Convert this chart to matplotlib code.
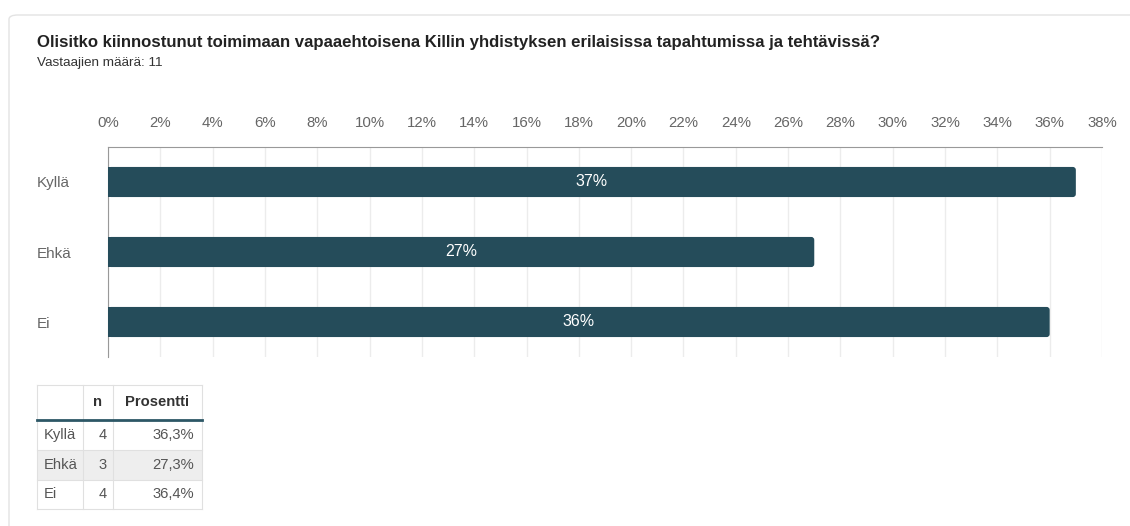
import matplotlib
matplotlib.use("Agg")
import matplotlib.pyplot as plt
from matplotlib.patches import FancyBboxPatch, Rectangle
from matplotlib.lines import Line2D

# ---- data ----
title = "Olisitko kiinnostunut toimimaan vapaaehtoisena Killin yhdistyksen erilaisissa tapahtumissa ja tehtävissä?"
subtitle = "Vastaajien määrä: 11"
categories = ["Kyllä", "Ehkä", "Ei"]
bar_values = [37, 27, 36]
bar_labels = ["37%", "27%", "36%"]
counts = [4, 3, 4]
pct_text = ["36,3%", "27,3%", "36,4%"]
table_header = ["", "n", "Prosentti"]
x_ticks = list(range(0, 39, 2))

W, H = 1130, 526
plt.rcParams['font.family'] = ['Liberation Sans', 'DejaVu Sans']
fig = plt.figure(figsize=(W / 100, H / 100), dpi=100)
fig.patch.set_facecolor("white")

def fx(x):
    return x / W

def fy(y):
    return 1 - y / H

PX2PT = 0.72
BAR = "#254c5a"
GRAY_TXT = "#666666"

# card border
card = FancyBboxPatch((fx(9), fy(560)), fx(1200), fy(15) - fy(560),
                      boxstyle="round,pad=0,rounding_size=0.008",
                      transform=fig.transFigure, fill=False,
                      edgecolor="#e3e3e3", linewidth=1.0)
fig.patches.append(card)

fig.text(fx(37), fy(42), title, fontsize=12.05, fontweight="bold",
         color="#222222", va="center", ha="left")
fig.text(fx(37), fy(63), subtitle, fontsize=9.7, color="#333333",
         va="center", ha="left")

# ---- bar chart ----
ax_l, ax_r, ax_t, ax_b = 108, 1102, 147, 357
ax = fig.add_axes([fx(ax_l), fy(ax_b), fx(ax_r) - fx(ax_l), fy(ax_t) - fy(ax_b)])
ax.set_xlim(0, 38)
ax.set_ylim(2.5, -0.5)
ypos = list(range(len(categories)))
bars = ax.barh(ypos, bar_values, height=0.43, color=BAR, zorder=3)
# rounded right corners
x_per_px = 38 / (ax_r - ax_l)
y_per_px = 3 / (ax_b - ax_t)
rad_px = 3
for b in bars:
    x0, y0 = b.get_x(), b.get_y()
    w, h = b.get_width(), b.get_height()
    b.set_visible(False)
    ax.add_patch(FancyBboxPatch((x0, y0), w, h,
                                boxstyle=f"round,pad=0,rounding_size={rad_px * x_per_px}",
                                mutation_aspect=y_per_px / x_per_px,
                                facecolor=BAR, edgecolor="none", zorder=3))
    ax.add_patch(Rectangle((x0, y0), w / 2, h, facecolor=BAR,
                           edgecolor="none", zorder=3))
for yv, v, lab in zip(ypos, bar_values, bar_labels):
    ax.text(v / 2, yv, lab, color="white", fontsize=11.5, ha="center",
            va="center", zorder=4)
ax.xaxis.tick_top()
ax.set_xticks(x_ticks)
ax.set_xticklabels([f"{t}%" for t in x_ticks], color=GRAY_TXT, fontsize=10.8)
ax.tick_params(axis="x", length=0, pad=12.5)
ax.set_yticks(ypos)
ax.set_yticklabels(categories, color=GRAY_TXT, fontsize=11)
ax.tick_params(axis="y", length=0, pad=(108 - 37) * PX2PT)
for lab in ax.get_yticklabels():
    lab.set_horizontalalignment("left")
ax.grid(axis="x", color="#ececec", linewidth=1, zorder=0)
for s in ["right", "bottom"]:
    ax.spines[s].set_visible(False)
ax.spines["top"].set_color("#999999")
ax.spines["left"].set_color("#999999")

# ---- table ----
col_x = [37, 83, 113, 202]
row_y = [385, 420, 450, 480, 509]
line_c = "#e0e0e0"
# Ehkä row shading
fig.patches.append(Rectangle((fx(col_x[0]), fy(row_y[3])),
                             fx(col_x[3]) - fx(col_x[0]),
                             fy(row_y[2]) - fy(row_y[3]),
                             transform=fig.transFigure, facecolor="#eeeeee",
                             edgecolor="none"))
for y in [row_y[0]] + row_y[2:]:
    fig.lines.append(Line2D([fx(col_x[0]), fx(col_x[3])], [fy(y), fy(y)],
                            transform=fig.transFigure, color=line_c, lw=0.8))
for x in col_x:
    fig.lines.append(Line2D([fx(x), fx(x)], [fy(row_y[0]), fy(row_y[-1])],
                            transform=fig.transFigure, color=line_c, lw=0.8))
fig.lines.append(Line2D([fx(col_x[0]), fx(col_x[3])], [fy(row_y[1]), fy(row_y[1])],
                        transform=fig.transFigure, color="#2d5766", lw=2))

hy = (row_y[0] + row_y[1]) / 2
fig.text(fx((col_x[1] + col_x[2]) / 2), fy(hy), table_header[1], fontsize=10.6,
         fontweight="bold", ha="center", va="center", color="#333333")
fig.text(fx((col_x[2] + col_x[3]) / 2), fy(hy), table_header[2], fontsize=10.6,
         fontweight="bold", ha="center", va="center", color="#333333")
for i, (cat, n, p) in enumerate(zip(categories, counts, pct_text)):
    cy = (row_y[i + 1] + row_y[i + 2]) / 2
    fig.text(fx(col_x[0] + 7), fy(cy), cat, fontsize=10.6, ha="left",
             va="center", color="#555555")
    fig.text(fx(col_x[2] - 6), fy(cy), str(n), fontsize=10.6, ha="right",
             va="center", color="#555555")
    fig.text(fx(col_x[3] - 8), fy(cy), p, fontsize=10.6, ha="right",
             va="center", color="#555555")

fig.savefig("out.png", dpi=100, facecolor="white")
